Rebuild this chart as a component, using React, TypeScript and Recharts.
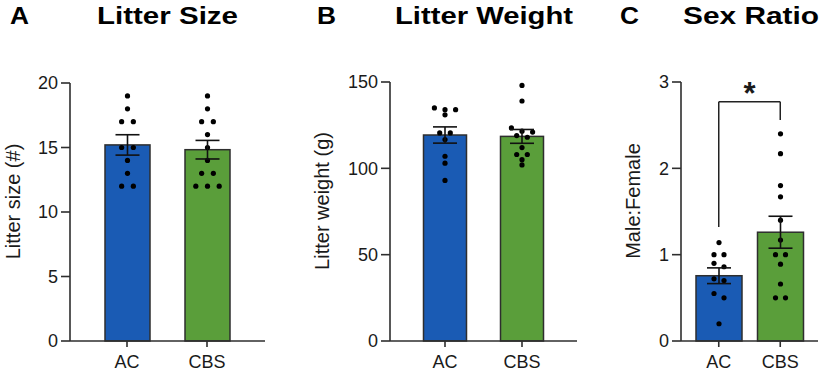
import React from "react"
import { BarChart, Bar, XAxis, YAxis, ErrorBar, ReferenceLine } from "recharts"

const groups = ["AC", "CBS"]

const sizeMean = [15.2, 14.83]
const sizeSem = [0.79, 0.72]
const sizeAC = [19, 18, 17, 17, 15, 15, 14, 13, 12, 12]
const sizeCBS = [19, 18, 17, 17, 16, 15, 14, 13, 13, 12, 12, 12]
const sizeTicks = [0, 5, 10, 15, 20]

const weightMean = [119.3, 118.5]
const weightSem = [4.7, 4.0]
const weightAC = [135, 134, 134, 131, 120.5, 120.5, 116.7, 107, 103, 93]
const weightCBS = [148, 139, 123.4, 121.5, 121, 119, 118, 112, 108, 108, 105, 102]
const weightTicks = [0, 50, 100, 150]

const ratioMean = [0.756, 1.26]
const ratioSem = [0.091, 0.185]
const ratioAC = [1.14, 1.0, 1.0, 0.9, 0.86, 0.72, 0.7, 0.55, 0.5, 0.2]
const ratioCBS = [2.4, 2.17, 1.8, 1.67, 1.4, 1.17, 1.0, 1.0, 0.89, 0.66, 0.5, 0.5]
const ratioTicks = [0, 1, 2, 3]

// significance bracket: [left leg bottom, bar height, right leg bottom]
const bracket = [1.32, 2.77, 2.56]

const barColors = ["#1a5bb4", "#5a9e3a"]
const ink = "#1a1a1a"
const axisColor = "#2e2e2e"
const font = "'Liberation Sans', Arial, Helvetica, sans-serif"

const rows = (mean: number[], sem: number[], pts: number[][]) =>
  groups.map((g, i) => ({ group: g, mean: mean[i], sem: sem[i], pts: pts[i] }))

// GraphPad-style scatter: points closer than ~5px share a row and are spread sideways
function spreadDots(vals: number[], pxPerUnit: number, spacing: number) {
  const sorted = [...vals].sort((a, b) => b - a)
  const lines: number[][] = []
  for (const v of sorted) {
    const last = lines[lines.length - 1]
    if (last && (last[0] - v) * pxPerUnit < 5) last.push(v)
    else lines.push([v])
  }
  return lines.flatMap((line) =>
    line.map((v, i) => ({ v, dx: (i - (line.length - 1) / 2) * spacing }))
  )
}

const barShape = (spacing: number) => (p: any) => {
  const { x, y, width, height, index, payload } = p
  const base = y + height
  const perUnit = height / payload.mean
  const cx = x + width / 2
  return (
    <g>
      <rect x={x} y={y} width={width} height={height} fill={barColors[index]} stroke={axisColor} strokeWidth={1.5} />
      {spreadDots(payload.pts, perUnit, spacing).map((d, i) => (
        <circle key={i} cx={cx + d.dx} cy={base - d.v * perUnit} r={2.6} fill="#000" />
      ))}
    </g>
  )
}

const AxisTitle = (props: any) => {
  const vb = props.viewBox || { x: 0, y: 83, width: 0, height: 258 }
  const cx = vb.x + props.dx
  const cy = vb.y + vb.height / 2 - 10.5
  return (
    <text x={cx} y={cy} transform={`rotate(-90, ${cx}, ${cy})`} textAnchor="middle" dominantBaseline="central" fontSize={20} fill={ink} fontFamily={font}>
      {props.value}
    </text>
  )
}

const Star = (props: any) => {
  const vb = props.viewBox
  if (!vb) return null
  return (
    <text x={vb.x + vb.width / 2} y={vb.y + 2} textAnchor="middle" fontSize={31} fontWeight="bold" fill={ink} fontFamily={font}>
      *
    </text>
  )
}

type PanelProps = {
  left: number
  width: number
  axisWidth: number
  top: number
  right: number
  pad: number[]
  barSize: number
  spacing: number
  ticks: number[]
  label: string
  labelX: number
  data: any[]
  children?: React.ReactNode
}

function Panel(props: PanelProps) {
  const { ticks } = props
  return (
    <div style={{ position: "absolute", left: props.left, top: 0 }}>
      <BarChart
        width={props.width}
        height={373}
        data={props.data}
        margin={{ top: props.top, right: props.right, bottom: 0, left: 0 }}
        barSize={props.barSize}
      >
        <XAxis
          dataKey="group"
          height={32}
          padding={{ left: props.pad[0], right: props.pad[1] }}
          tickSize={6}
          tickMargin={8}
          axisLine={{ stroke: axisColor, strokeWidth: 1.6 }}
          tickLine={{ stroke: axisColor, strokeWidth: 1.6 }}
          tick={{ fill: ink, fontSize: 18, fontFamily: font }}
        />
        <YAxis
          width={props.axisWidth}
          domain={[ticks[0], ticks[ticks.length - 1]]}
          ticks={ticks}
          interval={0}
          tickSize={9}
          tickMargin={3}
          axisLine={{ stroke: axisColor, strokeWidth: 1.6 }}
          tickLine={{ stroke: axisColor, strokeWidth: 1.6 }}
          tick={{ fill: ink, fontSize: 18, fontFamily: font }}
          label={<AxisTitle value={props.label} dx={props.labelX} />}
        />
        <Bar dataKey="mean" shape={barShape(props.spacing)} isAnimationActive={false}>
          <ErrorBar dataKey="sem" width={12} stroke="#111" strokeWidth={1.6} />
        </Bar>
        {props.children}
      </BarChart>
    </div>
  )
}

const titles = [
  { text: "A", x: 10, len: 19 },
  { text: "Litter Size", x: 97, len: 141 },
  { text: "B", x: 317, len: 19 },
  { text: "Litter Weight", x: 395, len: 178 },
  { text: "C", x: 620, len: 19 },
  { text: "Sex Ratio", x: 683, len: 136 },
]

export default function App() {
  const line = { stroke: "#222", strokeWidth: 1.5, ifOverflow: "visible" as const }
  return (
    <div style={{ position: "absolute", left: 0, top: 0, width: 820, height: 373, background: "#fff", fontFamily: font, overflow: "hidden" }}>
      <Panel left={0} width={272} axisWidth={70} top={83} right={7} pad={[17, 18]} barSize={45} spacing={11.7}
        ticks={sizeTicks} label="Litter size (#)" labelX={13} data={rows(sizeMean, sizeSem, [sizeAC, sizeCBS])} />
      <Panel left={290} width={292} axisWidth={100} top={82} right={5} pad={[16.5, 16.5]} barSize={43} spacing={10.6}
        ticks={weightTicks} label="Litter weight (g)" labelX={32} data={rows(weightMean, weightSem, [weightAC, weightCBS])} />
      <Panel left={600} width={220} axisWidth={81} top={82} right={2} pad={[7, 7]} barSize={46} spacing={10}
        ticks={ratioTicks} label="Male:Female" labelX={33} data={rows(ratioMean, ratioSem, [ratioAC, ratioCBS])}>
        <ReferenceLine segment={[{ x: "AC", y: bracket[0] }, { x: "AC", y: bracket[1] }]} {...line} />
        <ReferenceLine segment={[{ x: "AC", y: bracket[1] }, { x: "CBS", y: bracket[1] }]} {...line} label={<Star />} />
        <ReferenceLine segment={[{ x: "CBS", y: bracket[1] }, { x: "CBS", y: bracket[2] }]} {...line} />
      </Panel>
      <svg width={820} height={373} style={{ position: "absolute", left: 0, top: 0, pointerEvents: "none" }}>
        {titles.map((t) => (
          <text key={t.text} x={t.x} y={24} fontSize={24} fontWeight="bold" fill="#000" fontFamily={font}
            textLength={t.len} lengthAdjust="spacingAndGlyphs">
            {t.text}
          </text>
        ))}
      </svg>
    </div>
  )
}
